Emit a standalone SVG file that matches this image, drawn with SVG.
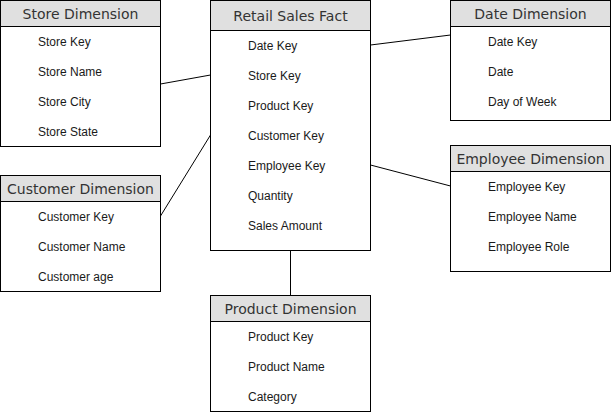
<svg xmlns="http://www.w3.org/2000/svg" width="611" height="412" viewBox="0 0 611 412">
<style>
.box{fill:#ffffff;stroke:#000000;stroke-width:1}
.hdr{fill:#e0e0e0;stroke:#000000;stroke-width:1}
.ht{font-family:"DejaVu Sans",sans-serif;font-size:14px;fill:#333333;text-anchor:middle;dominant-baseline:central}
.it{font-family:"Liberation Sans",Arial,sans-serif;font-size:12px;fill:#1a1a1a;dominant-baseline:central}
.cn{stroke:#000000;stroke-width:1;fill:none}
</style>
<rect width="611" height="412" fill="#ffffff"/>
<g id="connectors">
<line class="cn" x1="160.5" y1="84" x2="210.5" y2="75"/>
<line class="cn" x1="160.5" y1="216" x2="210.5" y2="135"/>
<line class="cn" x1="370.5" y1="45" x2="450.5" y2="35"/>
<line class="cn" x1="370.5" y1="165" x2="450.5" y2="186"/>
<line class="cn" x1="290.5" y1="250.5" x2="290.5" y2="295.5"/>
</g>
<g id="store">
<rect class="box" x="0.5" y="0.5" width="160" height="146"/>
<rect class="hdr" x="0.5" y="0.5" width="160" height="26"/>
<text class="ht" x="80.5" y="13.5">Store Dimension</text>
<text class="it" x="38" y="42">Store Key</text>
<text class="it" x="38" y="72">Store Name</text>
<text class="it" x="38" y="102">Store City</text>
<text class="it" x="38" y="132">Store State</text>
</g>
<g id="fact">
<rect class="box" x="210.5" y="0.5" width="160" height="250"/>
<rect class="hdr" x="210.5" y="0.5" width="160" height="30"/>
<text class="ht" x="290.5" y="15.5">Retail Sales Fact</text>
<text class="it" x="248" y="46">Date Key</text>
<text class="it" x="248" y="76">Store Key</text>
<text class="it" x="248" y="106">Product Key</text>
<text class="it" x="248" y="136">Customer Key</text>
<text class="it" x="248" y="166">Employee Key</text>
<text class="it" x="248" y="196">Quantity</text>
<text class="it" x="248" y="226">Sales Amount</text>
</g>
<g id="date">
<rect class="box" x="450.5" y="0.5" width="160" height="120"/>
<rect class="hdr" x="450.5" y="0.5" width="160" height="26"/>
<text class="ht" x="530.5" y="13.5">Date Dimension</text>
<text class="it" x="488" y="42">Date Key</text>
<text class="it" x="488" y="72">Date</text>
<text class="it" x="488" y="102">Day of Week</text>
</g>
<g id="employee">
<rect class="box" x="450.5" y="145.5" width="160" height="126"/>
<rect class="hdr" x="450.5" y="145.5" width="160" height="26"/>
<text class="ht" x="530.5" y="158.5">Employee Dimension</text>
<text class="it" x="488" y="187">Employee Key</text>
<text class="it" x="488" y="217">Employee Name</text>
<text class="it" x="488" y="247">Employee Role</text>
</g>
<g id="customer">
<rect class="box" x="0.5" y="175.5" width="160" height="116"/>
<rect class="hdr" x="0.5" y="175.5" width="160" height="26"/>
<text class="ht" x="80.5" y="188.5">Customer Dimension</text>
<text class="it" x="38" y="217">Customer Key</text>
<text class="it" x="38" y="247">Customer Name</text>
<text class="it" x="38" y="277">Customer age</text>
</g>
<g id="product">
<rect class="box" x="210.5" y="295.5" width="160" height="116"/>
<rect class="hdr" x="210.5" y="295.5" width="160" height="26"/>
<text class="ht" x="290.5" y="308.5">Product Dimension</text>
<text class="it" x="248" y="337">Product Key</text>
<text class="it" x="248" y="367">Product Name</text>
<text class="it" x="248" y="397">Category</text>
</g>
</svg>
